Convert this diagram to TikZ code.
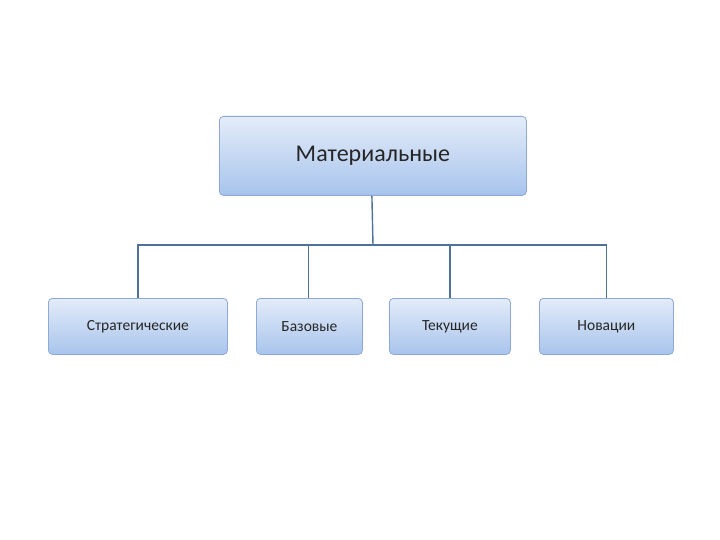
\documentclass[tikz,border=0pt]{standalone}
\usepackage{fontspec}
\setmainfont{Carlito}
\definecolor{topc}{HTML}{E3ECF9}
\definecolor{botc}{HTML}{A8C4EC}
\definecolor{edgec}{HTML}{8EA9D6}
\definecolor{linec}{HTML}{4F7298}
\definecolor{txt}{HTML}{262626}
\begin{document}
\begin{tikzpicture}[x=1pt,y=-1pt,
  box/.style={draw=edgec,line width=0.8pt,rounded corners=4pt,top color=topc,bottom color=botc,text=txt,anchor=north west,inner sep=0pt},
  conn/.style={draw=linec,line width=1.4pt}]
\useasboundingbox[fill=white] (0,0) rectangle (720,540);
\node[box,minimum width=307pt,minimum height=79pt,font=\fontsize{24}{28}\selectfont] (m) at (219,116) {Материальные};
\node[box,minimum width=179pt,minimum height=56pt,font=\fontsize{15.5}{18}\selectfont] (a) at (48,298) {Стратегические};
\node[box,minimum width=106pt,minimum height=56pt,font=\fontsize{15.5}{18}\selectfont] (b) at (256,298) {Базовые};
\node[box,minimum width=121pt,minimum height=56pt,font=\fontsize{15.5}{18}\selectfont] (c) at (389,298) {Текущие};
\node[box,minimum width=134pt,minimum height=56pt,font=\fontsize{15.5}{18}\selectfont] (d) at (539,298) {Новации};
\coordinate (j) at (373,245);
\draw[conn] ([xshift=-1pt]m.south) -- (j);
\draw[conn] (a.north) |- (j);
\draw[conn] (d.north) |- (j);
\draw[conn] ([xshift=-1pt]b.north) -- ++(0,-53);
\draw[conn] (c.north) -- ++(0,-53);
\end{tikzpicture}
\end{document}
